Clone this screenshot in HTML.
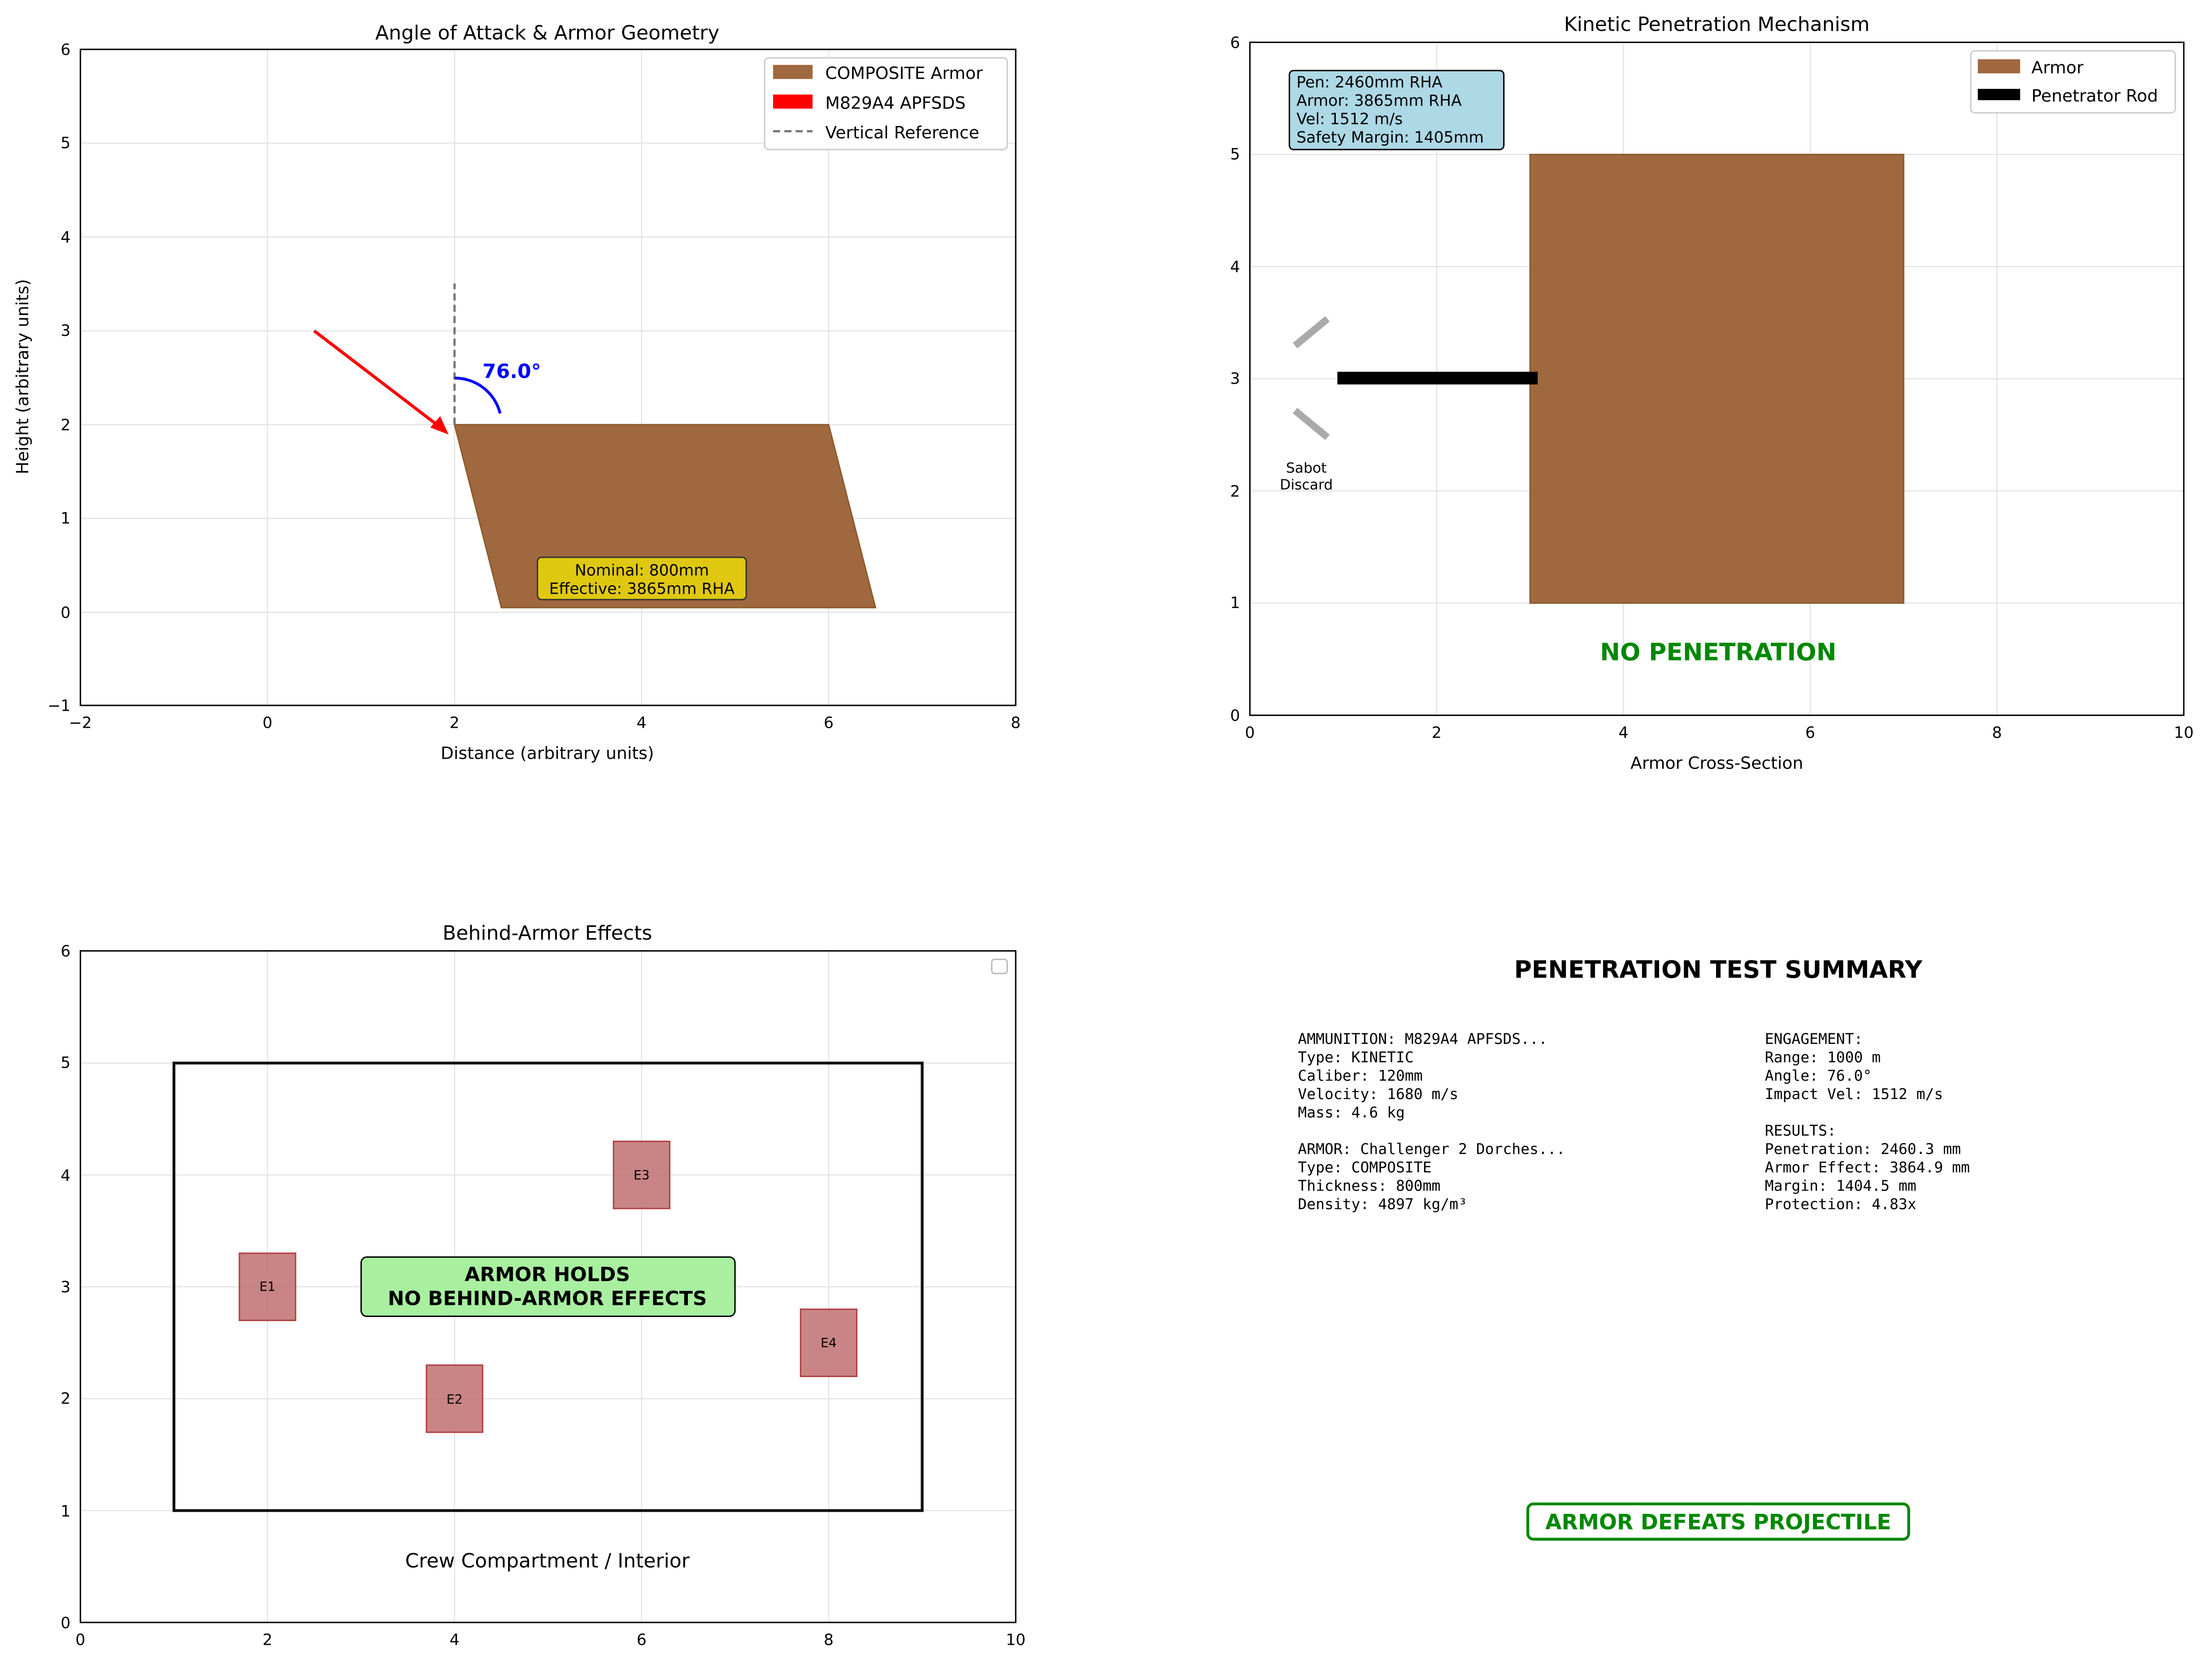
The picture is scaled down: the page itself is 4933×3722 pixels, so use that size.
<!DOCTYPE html>
<html><head><meta charset="utf-8"><style>
html,body{margin:0;padding:0;background:#fff}
svg{display:block}
text{font-family:"DejaVu Sans","Liberation Sans",sans-serif;fill:#000}
.t{font-size:11px}
.g{stroke:#e3e3e3;stroke-width:0.8}
.mono text{font-family:"DejaVu Sans Mono","Liberation Mono",monospace;font-size:10.5px}
</style></head><body>
<svg width="4933" height="3722" viewBox="0 0 1568 1183" preserveAspectRatio="none" xmlns="http://www.w3.org/2000/svg">
<rect width="1568" height="1183" fill="#fff"/>

<!-- ===== Plot 1 ===== -->
<g>
<g class="g">
<line x1="57" y1="35" x2="57" y2="500"/><line x1="189.6" y1="35" x2="189.6" y2="500"/><line x1="322.2" y1="35" x2="322.2" y2="500"/><line x1="454.8" y1="35" x2="454.8" y2="500"/><line x1="587.4" y1="35" x2="587.4" y2="500"/>
<line x1="57" y1="500" x2="720" y2="500"/><line x1="57" y1="434" x2="720" y2="434"/><line x1="57" y1="367.5" x2="720" y2="367.5"/><line x1="57" y1="301" x2="720" y2="301"/><line x1="57" y1="234.5" x2="720" y2="234.5"/><line x1="57" y1="168" x2="720" y2="168"/><line x1="57" y1="101.5" x2="720" y2="101.5"/>
</g>
<polygon points="322.2,301 587.4,301 620.6,430.7 355.4,430.7" fill="#a0683f" stroke="#8b5a2b" stroke-width="1"/>
<line x1="322.2" y1="301" x2="322.2" y2="201" stroke="#777" stroke-width="1.6" stroke-dasharray="5,3"/>
<line x1="222.7" y1="234.5" x2="311" y2="302" stroke="#f00" stroke-width="2.2"/>
<polygon points="318,308 305,303 312,295" fill="#f00"/>
<path d="M322.2,268 A33,33 0 0 1 354.5,293" fill="none" stroke="#00f" stroke-width="2"/>
<text x="342" y="268" style="font-size:14px;font-weight:bold;fill:#00f">76.0°</text>
<rect x="381" y="395" width="148" height="30" rx="3" fill="#e0c810" stroke="#333" stroke-width="1"/>
<text x="455" y="408" text-anchor="middle" class="t">Nominal: 800mm</text>
<text x="455" y="421" text-anchor="middle" class="t">Effective: 3865mm RHA</text>
<rect x="57" y="35" width="663" height="465" fill="none" stroke="#000" stroke-width="1"/>
<g class="t" text-anchor="middle">
<text x="57" y="516">−2</text><text x="189.6" y="516">0</text><text x="322.2" y="516">2</text><text x="454.8" y="516">4</text><text x="587.4" y="516">6</text><text x="720" y="516">8</text>
</g>
<g class="t" text-anchor="end">
<text x="50" y="504">−1</text><text x="50" y="438">0</text><text x="50" y="371">1</text><text x="50" y="305">2</text><text x="50" y="238">3</text><text x="50" y="172">4</text><text x="50" y="105">5</text><text x="50" y="39">6</text>
</g>
<text x="388" y="538" text-anchor="middle" class="t" style="font-size:12px">Distance (arbitrary units)</text>
<text transform="translate(20,267) rotate(-90)" text-anchor="middle" style="font-size:12px">Height (arbitrary units)</text>
<text x="388" y="28" text-anchor="middle" style="font-size:14px">Angle of Attack &amp; Armor Geometry</text>
<rect x="542" y="41" width="172" height="65" rx="3" fill="#fff" stroke="#ccc"/>
<rect x="548" y="46" width="28" height="10" fill="#a0683f"/><text x="585" y="56" style="font-size:12px">COMPOSITE Armor</text>
<rect x="548" y="67" width="28" height="10" fill="#f00"/><text x="585" y="77" style="font-size:12px">M829A4 APFSDS</text>
<line x1="548" y1="93" x2="576" y2="93" stroke="#777" stroke-width="1.6" stroke-dasharray="5,3"/><text x="585" y="98" style="font-size:12px">Vertical Reference</text>
</g>

<!-- ===== Plot 2 ===== -->
<g>
<g class="g">
<line x1="1018.4" y1="30" x2="1018.4" y2="507"/><line x1="1150.8" y1="30" x2="1150.8" y2="507"/><line x1="1283.2" y1="30" x2="1283.2" y2="507"/><line x1="1415.6" y1="30" x2="1415.6" y2="507"/>
<line x1="886" y1="427.5" x2="1548" y2="427.5"/><line x1="886" y1="348" x2="1548" y2="348"/><line x1="886" y1="268.5" x2="1548" y2="268.5"/><line x1="886" y1="189" x2="1548" y2="189"/><line x1="886" y1="109.5" x2="1548" y2="109.5"/>
</g>
<rect x="1084.6" y="109.5" width="264.8" height="318" fill="#a0683f" stroke="#8b5a2b"/>
<rect x="948" y="263.5" width="142" height="9" fill="#000"/>
<line x1="918" y1="245" x2="941" y2="226" stroke="#aaa" stroke-width="5"/>
<line x1="918" y1="291" x2="941" y2="310" stroke="#aaa" stroke-width="5"/>
<text x="926" y="335" text-anchor="middle" style="font-size:10px">Sabot</text>
<text x="926" y="347" text-anchor="middle" style="font-size:10px">Discard</text>
<text x="1218" y="468" text-anchor="middle" style="font-size:17px;font-weight:bold;fill:#080">NO PENETRATION</text>
<rect x="914" y="50" width="152" height="56" rx="3" fill="#add8e6" stroke="#000" stroke-width="1"/>
<g class="t"><text x="919" y="62">Pen: 2460mm RHA</text><text x="919" y="75">Armor: 3865mm RHA</text><text x="919" y="88">Vel: 1512 m/s</text><text x="919" y="101">Safety Margin: 1405mm</text></g>
<rect x="886" y="30" width="662" height="477" fill="none" stroke="#000"/>
<g class="t" text-anchor="middle">
<text x="886" y="523">0</text><text x="1018.4" y="523">2</text><text x="1150.8" y="523">4</text><text x="1283.2" y="523">6</text><text x="1415.6" y="523">8</text><text x="1548" y="523">10</text>
</g>
<g class="t" text-anchor="end">
<text x="879" y="511">0</text><text x="879" y="431">1</text><text x="879" y="352">2</text><text x="879" y="272">3</text><text x="879" y="193">4</text><text x="879" y="113">5</text><text x="879" y="34">6</text>
</g>
<text x="1217" y="545" text-anchor="middle" style="font-size:12px">Armor Cross-Section</text>
<text x="1217" y="22" text-anchor="middle" style="font-size:14px">Kinetic Penetration Mechanism</text>
<rect x="1397" y="36" width="145" height="44" rx="3" fill="#fff" stroke="#ccc"/>
<rect x="1402" y="42" width="30" height="10" fill="#a0683f"/><text x="1440" y="52" style="font-size:12px">Armor</text>
<rect x="1402" y="63" width="30" height="8" fill="#000"/><text x="1440" y="72" style="font-size:12px">Penetrator Rod</text>
</g>

<!-- ===== Plot 3 ===== -->
<g>
<g class="g">
<line x1="189.6" y1="674" x2="189.6" y2="1150"/><line x1="322.2" y1="674" x2="322.2" y2="1150"/><line x1="454.8" y1="674" x2="454.8" y2="1150"/><line x1="587.4" y1="674" x2="587.4" y2="1150"/>
<line x1="57" y1="1070.7" x2="720" y2="1070.7"/><line x1="57" y1="991.4" x2="720" y2="991.4"/><line x1="57" y1="912.1" x2="720" y2="912.1"/><line x1="57" y1="832.8" x2="720" y2="832.8"/><line x1="57" y1="753.5" x2="720" y2="753.5"/>
</g>
<rect x="123.3" y="753.5" width="530.4" height="317.2" fill="none" stroke="#111" stroke-width="2"/>
<g fill="#c07070" stroke="#b04040" stroke-width="1" fill-opacity="0.85">
<rect x="169.7" y="888.3" width="39.8" height="47.6"/>
<rect x="302.3" y="967.6" width="39.8" height="47.6"/>
<rect x="434.9" y="809" width="39.8" height="47.6"/>
<rect x="567.5" y="928" width="39.8" height="47.6"/>
</g>
<g style="font-size:9px" text-anchor="middle">
<text x="189.6" y="915">E1</text><text x="322.2" y="995">E2</text><text x="454.8" y="836">E3</text><text x="587.4" y="955">E4</text>
</g>
<rect x="256" y="891" width="265" height="42" rx="4" fill="#a8f0a0" stroke="#000"/>
<text x="388" y="908" text-anchor="middle" style="font-size:14px;font-weight:bold">ARMOR HOLDS</text>
<text x="388" y="925" text-anchor="middle" style="font-size:14px;font-weight:bold">NO BEHIND-ARMOR EFFECTS</text>
<text x="388" y="1111" text-anchor="middle" style="font-size:14px">Crew Compartment / Interior</text>
<rect x="703" y="680" width="11" height="10" rx="2" fill="#fff" stroke="#bbb"/>
<rect x="57" y="674" width="663" height="476" fill="none" stroke="#000"/>
<g class="t" text-anchor="middle">
<text x="57" y="1166">0</text><text x="189.6" y="1166">2</text><text x="322.2" y="1166">4</text><text x="454.8" y="1166">6</text><text x="587.4" y="1166">8</text><text x="720" y="1166">10</text>
</g>
<g class="t" text-anchor="end">
<text x="50" y="1154">0</text><text x="50" y="1075">1</text><text x="50" y="995">2</text><text x="50" y="916">3</text><text x="50" y="837">4</text><text x="50" y="757">5</text><text x="50" y="678">6</text>
</g>
<text x="388" y="666" text-anchor="middle" style="font-size:14px">Behind-Armor Effects</text>
</g>

<!-- ===== Plot 4 ===== -->
<g>
<text x="1218" y="693" text-anchor="middle" style="font-size:17px;font-weight:bold">PENETRATION TEST SUMMARY</text>
<g class="mono">
<text x="920" y="740">AMMUNITION: M829A4 APFSDS...</text>
<text x="920" y="753">Type: KINETIC</text>
<text x="920" y="766">Caliber: 120mm</text>
<text x="920" y="779">Velocity: 1680 m/s</text>
<text x="920" y="792">Mass: 4.6 kg</text>
<text x="920" y="818">ARMOR: Challenger 2 Dorches...</text>
<text x="920" y="831">Type: COMPOSITE</text>
<text x="920" y="844">Thickness: 800mm</text>
<text x="920" y="857">Density: 4897 kg/m³</text>
<text x="1251" y="740">ENGAGEMENT:</text>
<text x="1251" y="753">Range: 1000 m</text>
<text x="1251" y="766">Angle: 76.0°</text>
<text x="1251" y="779">Impact Vel: 1512 m/s</text>
<text x="1251" y="805">RESULTS:</text>
<text x="1251" y="818">Penetration: 2460.3 mm</text>
<text x="1251" y="831">Armor Effect: 3864.9 mm</text>
<text x="1251" y="844">Margin: 1404.5 mm</text>
<text x="1251" y="857">Protection: 4.83x</text>
</g>
<rect x="1083" y="1066" width="270" height="25" rx="4" fill="#fff" stroke="#080" stroke-width="2"/>
<text x="1218" y="1084" text-anchor="middle" style="font-size:15px;font-weight:bold;fill:#080">ARMOR DEFEATS PROJECTILE</text>
</g>
</svg>
</body></html>
